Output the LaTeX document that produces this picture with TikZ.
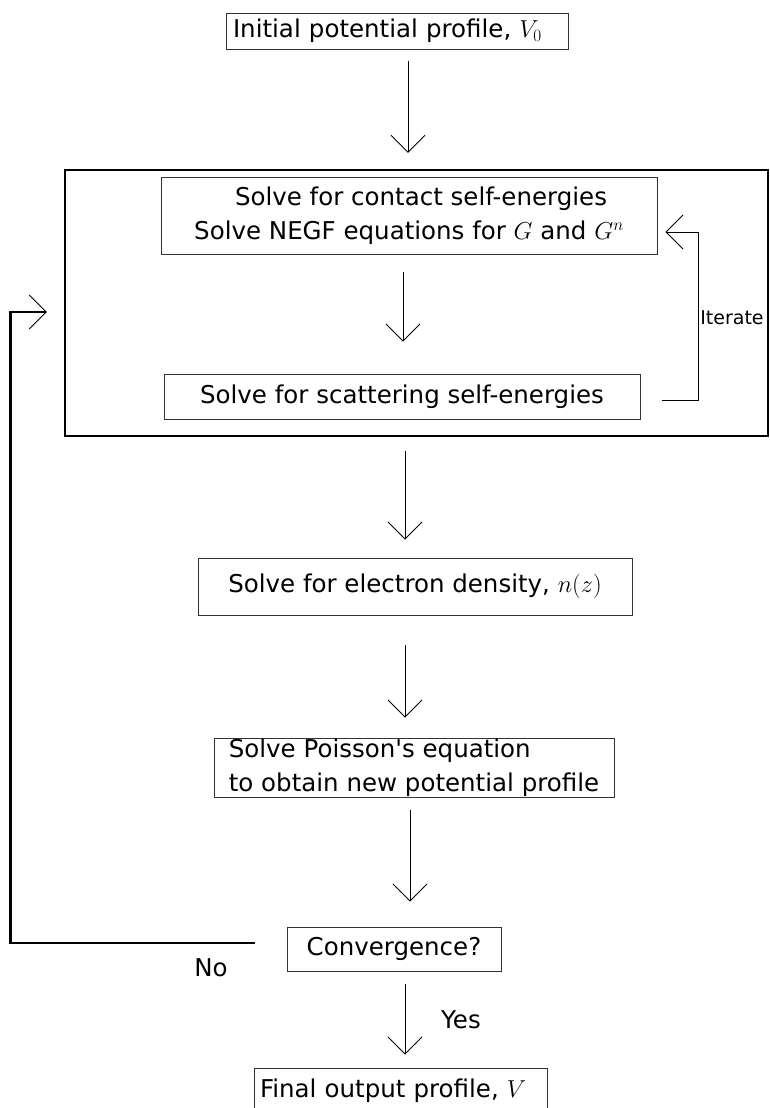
\RequirePackage{fix-cm}
\documentclass[tikz,border=0pt]{standalone}
\usepackage{fontspec}
\setmainfont{DejaVu Sans}
\usetikzlibrary{arrows.meta}
\begin{document}
\begin{tikzpicture}[x=1pt,y=-1pt,
    every node/.style={font=\fontsize{24.5}{34}\selectfont},
    stage/.style={draw=black!80,line width=0.9pt,inner sep=0pt},
    flow/.style={line width=0.9pt,-{Straight Barb[length=17pt,width=34pt]}}]
  \useasboundingbox (0,0) rectangle (770,1108);
  \node[stage,minimum width=342pt,minimum height=36pt,text width=328pt,align=left] (init) at (397,31) {Initial potential profile, $V_0$};
  \node[draw,line width=2.2pt,minimum width=703pt,minimum height=266pt,inner sep=0pt] (loop) at (416.5,303) {};
  \node[stage,minimum width=496pt,minimum height=77pt,align=center] (contact) at (409,215.5) {\hspace*{24pt}Solve for contact self-energies\\Solve NEGF equations for $G$ and $G^n$};
  \node[stage,minimum width=476pt,minimum height=45pt] (scatter) at (402,396.5) {Solve for scattering self-energies};
  \node[stage,minimum width=434pt,minimum height=57pt] (density) at (415,586.5) {Solve for electron density, $n(z)$};
  \node[stage,minimum width=400pt,minimum height=59pt,align=left] (poisson) at (414,767.5) {Solve Poisson\textquotesingle s equation\\to obtain new potential profile};
  \node[stage,minimum width=214pt,minimum height=44pt] (conv) at (394,949) {Convergence?};
  \node[stage,minimum width=293pt,minimum height=46pt,text width=281pt,align=left] (final) at (400.5,1091) {Final output profile, $V$};
  \node[font=\fontsize{19}{23}\selectfont] (iterate) at (732,318) {Iterate};
  \node (no) at (211,968) {No};
  \node (yes) at (461,1020) {Yes};
  \draw[flow,shorten <=12pt,shorten >=16pt] ([xshift=11pt]init.south) -- ([xshift=-8.5pt]loop.north);
  \draw[flow,shorten <=18pt,shorten >=32pt] ([xshift=-6pt]contact.south) -- ([xshift=1pt]scatter.north);
  \draw[flow,shorten <=14pt,shorten >=18pt] ([xshift=-11.5pt]loop.south) -- ([xshift=-10pt]density.north);
  \draw[flow,shorten <=30pt,shorten >=20pt] ([xshift=-10pt]density.south) -- ([xshift=-9pt]poisson.north);
  \draw[flow,shorten <=13pt,shorten >=25pt] ([xshift=-4pt]poisson.south) -- ([xshift=16pt]conv.north);
  \draw[flow,shorten <=13pt,shorten >=13pt] ([xshift=11pt]conv.south) -- ([xshift=4.5pt]final.north);
  \draw[flow] ([xshift=22pt,yshift=-4pt]scatter.east) -- ++(36,0) |- ([xshift=8pt,yshift=-16.5pt]contact.east);
  \draw[line width=2.5pt,-{Straight Barb[length=17pt,width=34pt,line width=0.9pt]}] ([xshift=-32pt,yshift=6pt]conv.west) -- ++(-244,0) |- ([xshift=-17pt,yshift=-9pt]loop.west);
\end{tikzpicture}
\end{document}
